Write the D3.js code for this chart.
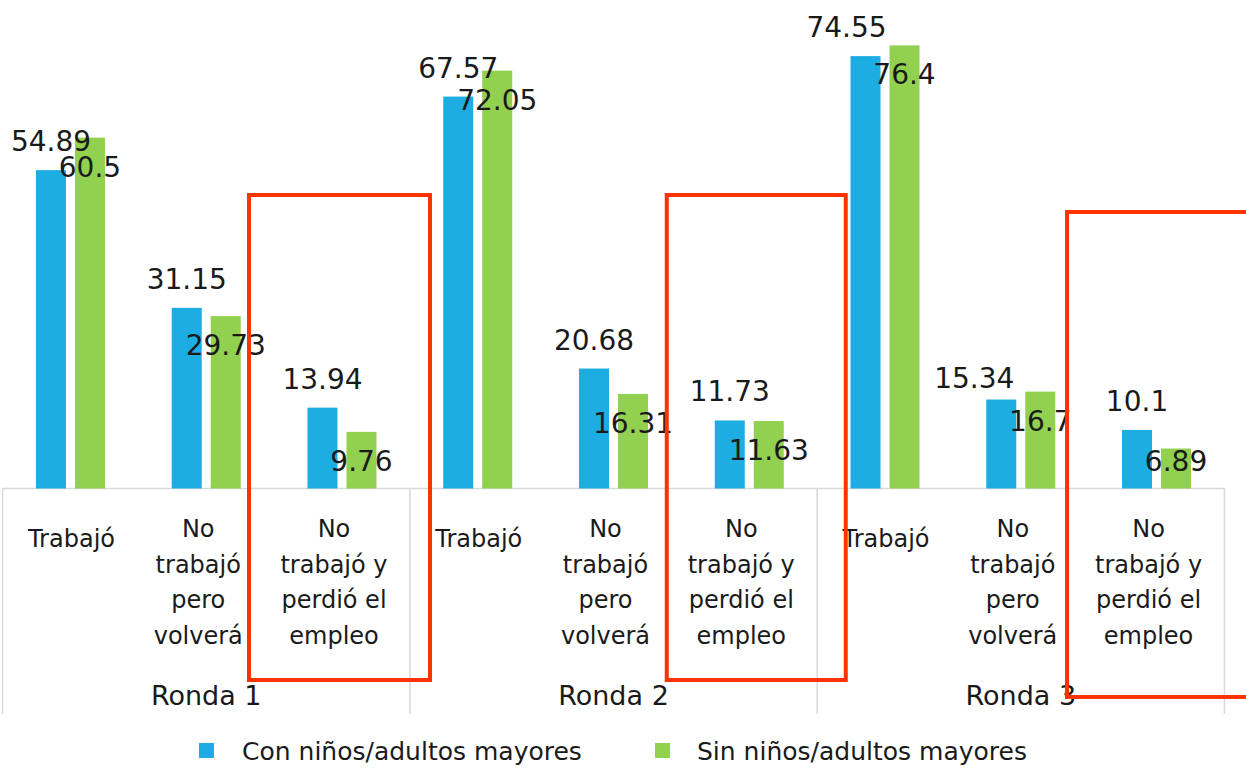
<!DOCTYPE html>
<html>
<head>
<meta charset="utf-8">
<script src="https://cdn.jsdelivr.net/npm/d3@7"></script>
<style>
  body { margin: 0; background: #fff; }
  text { font-family: "DejaVu Sans", sans-serif; fill: #1a1a1a; }
</style>
</head>
<body>
<script>
// data
const rondas = ["Ronda 1", "Ronda 2", "Ronda 3"];
const estados = ["Trabajó", "No trabajó pero volverá", "No trabajó y perdió el empleo"];
const estadoLineas = [["Trabajó"], ["No", "trabajó", "pero", "volverá"], ["No", "trabajó y", "perdió el", "empleo"]];
const series = ["Con niños/adultos mayores", "Sin niños/adultos mayores"];
const conNinos = [54.89, 31.15, 13.94, 67.57, 20.68, 11.73, 74.55, 15.34, 10.1];
const sinNinos = [60.5, 29.73, 9.76, 72.05, 16.31, 11.63, 76.4, 16.7, 6.89];

const colors = ["#1eade3", "#92d050"];
const red = "#ff3300";

let width = 1246, height = 768;

let svg = d3.select("body").append("svg")
    .attr("width", width)
    .attr("height", height);

// one key per (ronda, estado)
let keys = [];
rondas.forEach((r, ri) => estados.forEach((e, ei) => keys.push({ronda: r, ri: ri, estado: e, ei: ei, key: r + "|" + e})));

let x = d3.scaleBand()
    .domain(keys.map(d => d.key))
    .range([2.6, 1224.4])
    .paddingInner(0.4917)
    .paddingOuter(0.2458);

let xs = d3.scaleBand()
    .domain(series)
    .range([0, x.bandwidth()])
    .paddingInner(0.2308);

let y = d3.scaleLinear()
    .domain([0, 80])
    .range([488.5, 24.5]);

let axisBottom = 714;
let groupEdge = g => x.range()[0] + g * estados.length * x.step();

// axis frame
let axis = svg.append("g").attr("stroke", "#d9d9d9").attr("stroke-width", 1.5);
axis.append("line")
    .attr("x1", x.range()[0]).attr("x2", x.range()[1])
    .attr("y1", y(0)).attr("y2", y(0));
axis.selectAll(".sep")
    .data(d3.range(rondas.length + 1))
    .enter().append("line")
    .attr("x1", d => groupEdge(d)).attr("x2", d => groupEdge(d))
    .attr("y1", y(0)).attr("y2", axisBottom);

// bars
let rows = keys.map((k, i) => ({k: k, vals: [conNinos[i], sinNinos[i]], i: i}));

let cat = svg.selectAll(".cat")
    .data(rows)
    .enter().append("g")
    .attr("transform", d => `translate(${x(d.k.key)},0)`);

cat.selectAll("rect")
    .data(d => d.vals.map((v, s) => ({v: v, s: s, i: d.i})))
    .enter().append("rect")
    .attr("x", d => xs(series[d.s]))
    .attr("width", xs.bandwidth())
    .attr("y", d => y(d.v))
    .attr("height", d => y(0) - y(d.v))
    .attr("fill", d => colors[d.s]);

// value labels: blue above the bar, green just inside its top
let nudge = {6: [-19, 0], 7: [-27, 7]};   // hand-moved labels in the original
cat.selectAll(".val")
    .data(d => d.vals.map((v, s) => ({v: v, s: s, i: d.i})))
    .enter().append("text")
    .attr("text-anchor", "middle")
    .style("font-size", "28px")
    .attr("x", d => xs(series[d.s]) + xs.bandwidth() / 2 + (d.s === 0 && nudge[d.i] ? nudge[d.i][0] : 0))
    .attr("y", d => d.s === 0
        ? y(d.v) - 19 + (nudge[d.i] ? nudge[d.i][1] : 0)
        : Math.min(y(d.v) + 39, y(0) - 18))
    .text(d => d.v);

// category labels
cat.each(function(d) {
    let lines = estadoLineas[d.k.ei];
    let cx = x.bandwidth() / 2 + (lines.length > 1 ? -8 : 1);
    let y0 = lines.length > 1 ? 537 : 547;
    let t = d3.select(this).append("text")
        .attr("text-anchor", "middle")
        .style("font-size", "24px");
    lines.forEach((l, li) => {
        t.append("tspan").attr("x", cx).attr("y", y0 + li * 35.5).text(l);
    });
});

// ronda labels
svg.selectAll(".ronda")
    .data(rondas)
    .enter().append("text")
    .attr("text-anchor", "middle")
    .style("font-size", "27px")
    .attr("x", (d, i) => (groupEdge(i) + groupEdge(i + 1)) / 2)
    .attr("y", 705)
    .text(d => d);

// red highlight boxes around "perdió el empleo"
let boxes = [
    {ri: 0, left: 93, right: 88, top: 195, bottom: 680},
    {ri: 1, left: 82.5, right: 96.5, top: 195, bottom: 680},
    {ri: 2, left: 89.5, right: 120, top: 212, bottom: 697}
];
svg.selectAll(".box")
    .data(boxes)
    .enter().append("rect")
    .attr("x", d => x(rondas[d.ri] + "|" + estados[2]) + x.bandwidth() / 2 - d.left)
    .attr("y", d => d.top)
    .attr("width", d => d.left + d.right)
    .attr("height", d => d.bottom - d.top)
    .attr("fill", "none")
    .attr("stroke", red)
    .attr("stroke-width", 4);

// legend
let legendX = [199, 655];
let legend = svg.selectAll(".leg")
    .data(series)
    .enter().append("g")
    .attr("transform", (d, i) => `translate(${legendX[i]},743)`);
legend.append("rect")
    .attr("width", 15).attr("height", 15)
    .attr("fill", (d, i) => colors[i]);
legend.append("text")
    .attr("x", (d, i) => i === 0 ? 43 : 42)
    .attr("y", 17)
    .style("font-size", "25px")
    .text(d => d);
</script>
</body>
</html>
